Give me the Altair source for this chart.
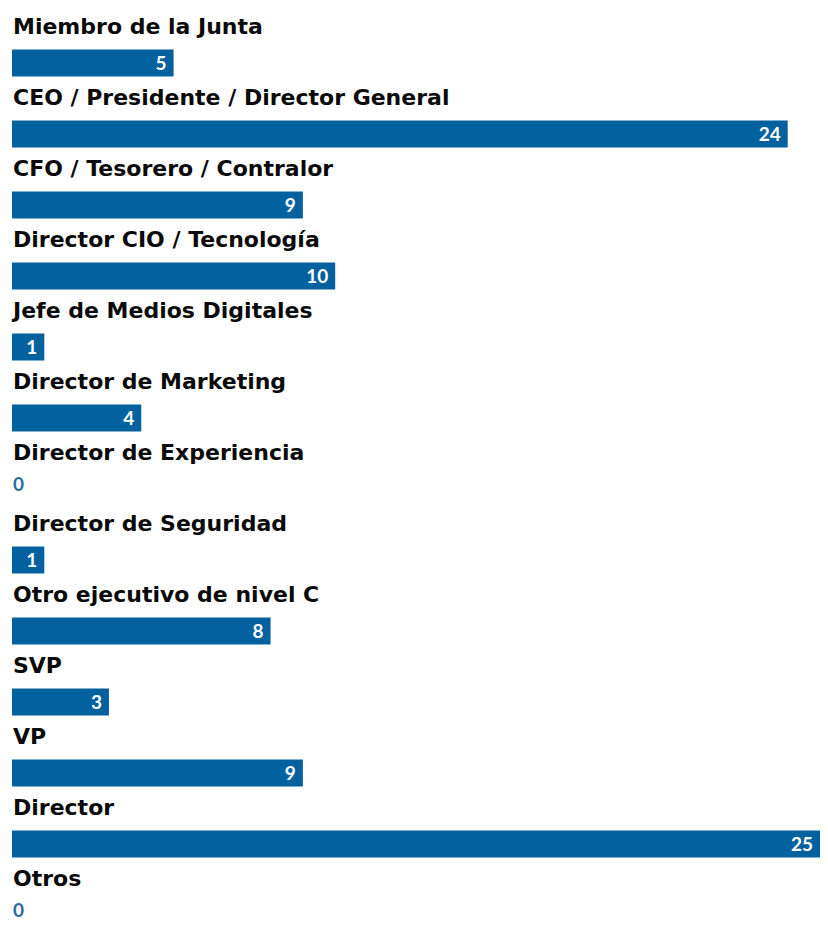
import altair as alt
import pandas as pd

categories = [
    "Miembro de la Junta",
    "CEO / Presidente / Director General",
    "CFO / Tesorero / Contralor",
    "Director CIO / Tecnología",
    "Jefe de Medios Digitales",
    "Director de Marketing",
    "Director de Experiencia",
    "Director de Seguridad",
    "Otro ejecutivo de nivel C",
    "SVP",
    "VP",
    "Director",
    "Otros",
]
values = [5, 24, 9, 10, 1, 4, 0, 1, 8, 3, 9, 25, 0]

df = pd.DataFrame({"cat": categories, "value": values, "row": list(range(len(categories)))})
df["base"] = 0

BLUE = "#04619f"
LABEL_FONT = "DejaVu Sans"
VALUE_FONT = "Lato"

xscale = alt.Scale(domain=[0, 25], nice=False, zero=True, padding=0)
x = alt.X("value:Q", scale=xscale, axis=None)
x0 = alt.X("base:Q", scale=xscale, axis=None)
y = alt.Y("row:Q", scale=alt.Scale(domain=[-0.7465, 12.085], reverse=True, nice=False,
                                   zero=False, padding=0), axis=None)

base = alt.Chart(df)

bars = base.mark_bar(orient="horizontal", size=27, color=BLUE).encode(
    x=x, x2="base:Q", y=y
)

labels = base.mark_text(align="left", baseline="middle", dx=1, dy=-36,
                        font=LABEL_FONT, fontWeight="bold", fontSize=22, color="#0a0a0a").encode(
    x=x0, y=y, text="cat:N"
)

vals = base.transform_filter("datum.value > 0").mark_text(
    align="right", baseline="middle", dx=-7, dy=1,
    font=VALUE_FONT, fontWeight="bold", fontSize=19, color="white").encode(
    x=x, y=y, text="value:Q"
)

zeros = base.transform_filter("datum.value == 0").mark_text(
    align="left", baseline="middle", dx=1, dy=-4,
    font=VALUE_FONT, fontWeight="bold", fontSize=19, color="#2d6aa3").encode(
    x=x0, y=y, text="value:Q"
)

chart = alt.layer(bars, labels, vals, zeros).properties(
    width=808, height=911,
    padding={"left": 4, "top": 2, "right": 0, "bottom": 0},
    autosize=alt.AutoSizeParams(type="none"),
).configure_view(stroke=None)

chart.save("out.html", embed_options={"renderer": "svg", "actions": False})
